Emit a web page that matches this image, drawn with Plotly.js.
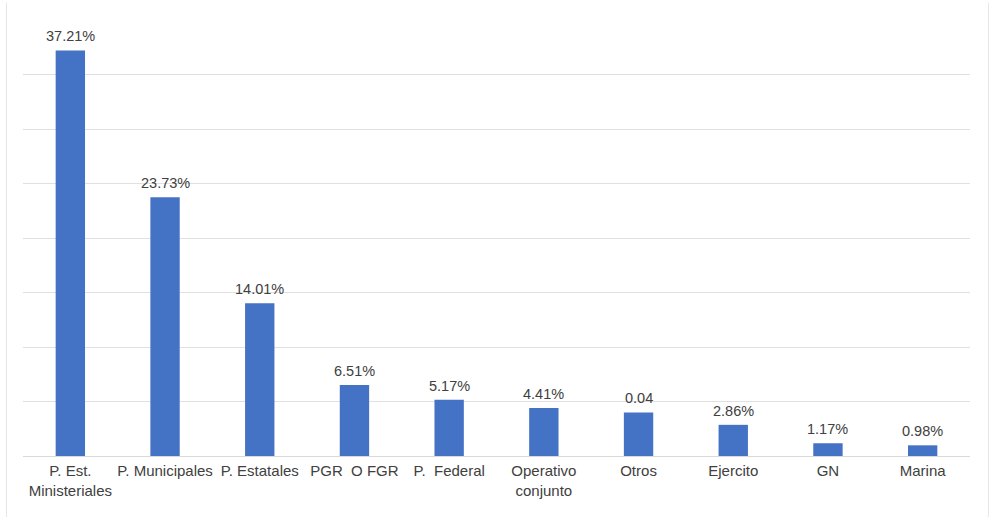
<!DOCTYPE html>
<html>
<head>
<meta charset="utf-8">
<script src="https://cdn.plot.ly/plotly-3.0.1.min.js"></script>
<style>
  html, body { margin: 0; padding: 0; background: #ffffff; }
  #chart { width: 989px; height: 517px; }
</style>
</head>
<body>
<div id="chart"></div>
<script>
// Share of cases by authority (as fractions of the total)
const categories = [
  "P. Est.<br>Ministeriales",
  "P. Municipales",
  "P. Estatales",
  "PGR  O FGR",
  "P.  Federal",
  "Operativo<br>conjunto",
  "Otros",
  "Ejercito",
  "GN",
  "Marina"
];
const values = [0.3721, 0.2373, 0.1401, 0.0651, 0.0517, 0.0441, 0.04, 0.0286, 0.0117, 0.0098];
const valueLabels = ["37.21%", "23.73%", "14.01%", "6.51%", "5.17%", "4.41%", "0.04", "2.86%", "1.17%", "0.98%"];

const FONT = "Liberation Sans, Arial, sans-serif";

const trace = {
  type: "bar",
  x: categories,
  y: values,
  marker: { color: "#4472C4" },
  hoverinfo: "x+y"
};

// value labels sitting just above each bar
const labelAnnotations = categories.map((c, i) => ({
  x: c,
  y: values[i],
  xref: "x",
  yref: "y",
  text: valueLabels[i],
  showarrow: false,
  yanchor: "bottom",
  yshift: 4,
  font: { family: FONT, size: 14.5, color: "#404040" }
}));

const layout = {
  width: 989,
  height: 517,
  margin: { l: 23, r: 19, t: 20, b: 61 },
  paper_bgcolor: "#ffffff",
  plot_bgcolor: "#ffffff",
  bargap: 0.69,
  showlegend: false,
  font: { family: FONT, size: 15, color: "#404040" },
  xaxis: {
    type: "category",
    showgrid: false,
    zeroline: false,
    showline: false,
    ticks: "",
    tickfont: { family: FONT, size: 15, color: "#404040" },
    ticklabelstandoff: 4,
    automargin: false
  },
  yaxis: {
    range: [0, 0.40],
    dtick: 0.05,
    showticklabels: false,
    showgrid: true,
    gridcolor: "#e0e0e0",
    gridwidth: 1,
    zeroline: true,
    zerolinecolor: "#d9d9d9",
    zerolinewidth: 1,
    showline: false,
    ticks: ""
  },
  annotations: labelAnnotations,
  // thin frame lines at the left and right edges of the chart area
  shapes: [
    { type: "line", xref: "paper", yref: "paper", x0: -0.0175, x1: -0.0175, y0: -0.145, y1: 1.04,
      line: { color: "#e6e6e6", width: 1 } },
    { type: "line", xref: "paper", yref: "paper", x0: 1.0195, x1: 1.0195, y0: -0.145, y1: 1.04,
      line: { color: "#e6e6e6", width: 1 } }
  ]
};

Plotly.newPlot("chart", [trace], layout, { displayModeBar: false, staticPlot: true });
</script>
</body>
</html>
